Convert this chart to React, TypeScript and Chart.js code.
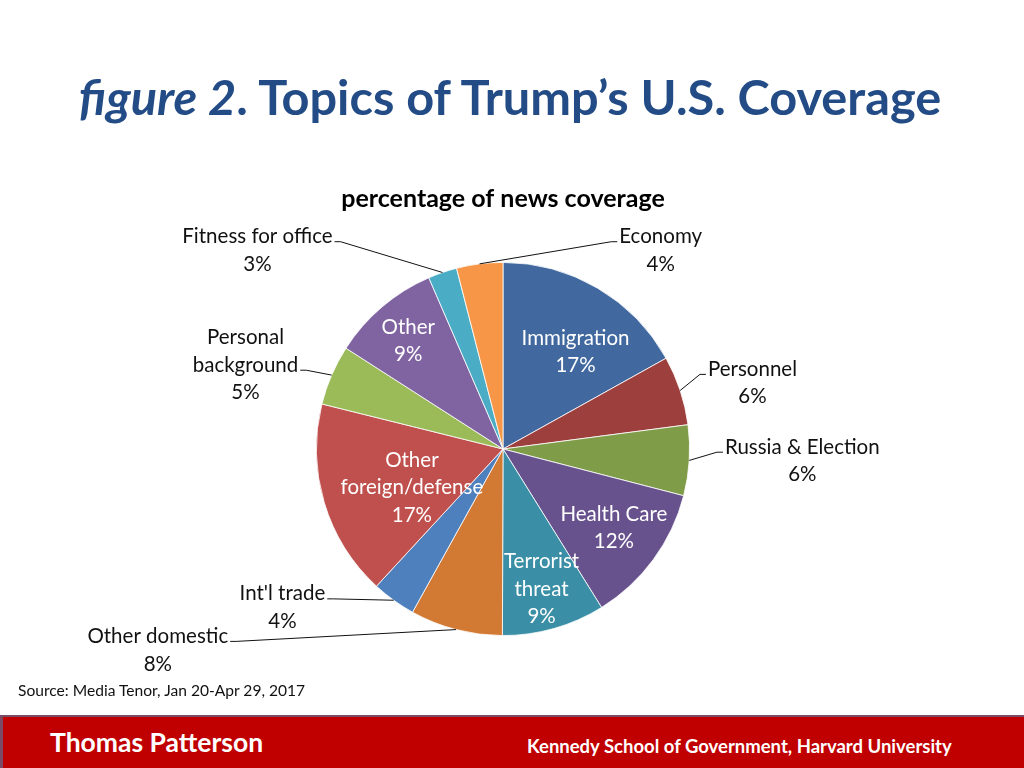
import React, { useEffect, useRef } from "react";
import { Chart, registerables } from "chart.js";

Chart.register(...registerables);

// ---- data (clockwise from 12 o'clock) ----
const categories = [
  "Immigration",
  "Personnel",
  "Russia & Election",
  "Health Care",
  "Terrorist\nthreat",
  "Other domestic",
  "Int'l trade",
  "Other\nforeign/defense",
  "Personal\nbackground",
  "Other",
  "Fitness for office",
  "Economy",
];
const shares = [16.9, 6.0, 6.1, 12.1, 8.9, 8.0, 3.8, 17.0, 5.2, 9.4, 2.5, 4.0];
const sliceColors = [
  "#41699F",
  "#9D403D",
  "#7F9C49",
  "#68528E",
  "#3A8FA6",
  "#D27A34",
  "#4E80BD",
  "#C0504D",
  "#9BBB59",
  "#8064A2",
  "#4BACC6",
  "#F79646",
];

const chartTitle = "percentage of news coverage";
const slideTitleItalic = "figure 2";
const slideTitleRest = ". Topics of Trump’s U.S. Coverage";
const sourceNote = "Source: Media Tenor, Jan 20-Apr 29, 2017";
const footerLeft = "Thomas Patterson";
const footerRight = "Kennedy School of Government, Harvard University";

// ---- label layout (style only) ----
type InsideLayout = { kind: "in"; r: number; dAng: number };
type OutsideLayout = { kind: "out"; lx: number; ly: number; side: "left" | "right"; anchorLine: number };
const labelLayout: (InsideLayout | OutsideLayout)[] = [
  { kind: "in", r: 0.65, dAng: 6.3 },
  { kind: "out", lx: 1.337, ly: -0.353, side: "right", anchorLine: 0 },
  { kind: "out", lx: 1.604, ly: 0.064, side: "right", anchorLine: 0 },
  { kind: "in", r: 0.73, dAng: -0.8 },
  { kind: "in", r: 0.78, dAng: 0.5 },
  { kind: "out", lx: -1.85, ly: 1.078, side: "left", anchorLine: 0 },
  { kind: "out", lx: -1.182, ly: 0.85, side: "left", anchorLine: 0 },
  { kind: "in", r: 0.53, dAng: -6.2 },
  { kind: "out", lx: -1.38, ly: -0.449, side: "left", anchorLine: 1 },
  { kind: "in", r: 0.77, dAng: -0.9 },
  { kind: "out", lx: -1.316, ly: -1.064, side: "left", anchorLine: 0 },
  { kind: "out", lx: 0.845, ly: -1.064, side: "right", anchorLine: 0 },
];

const LABEL_FONT = "20.5px Lato, 'Open Sans', sans-serif";
const LINE_H = 27.5;

const pieLabelPlugin = {
  id: "pieLabels",
  afterDraw(chart: any) {
    const ctx: CanvasRenderingContext2D = chart.ctx;
    const meta = chart.getDatasetMeta(0);
    ctx.save();
    ctx.font = LABEL_FONT;
    ctx.textAlign = "center";
    ctx.textBaseline = "middle";
    meta.data.forEach((arc: any, i: number) => {
      const p = arc.getProps(["x", "y", "startAngle", "endAngle", "outerRadius"], true);
      const R = p.outerRadius;
      const mid = (p.startAngle + p.endAngle) / 2;
      const val = chart.data.datasets[0].data[i] as number;
      const lines = [...String(chart.data.labels[i]).split("\n"), Math.round(val) + "%"];
      const lay = labelLayout[i];
      if (lay.kind === "in") {
        const a = mid + (lay.dAng * Math.PI) / 180;
        const cx = p.x + Math.cos(a) * R * lay.r;
        const cy = p.y + Math.sin(a) * R * lay.r;
        ctx.fillStyle = "#FFFFFF";
        const top = cy - ((lines.length - 1) * LINE_H) / 2;
        lines.forEach((t, k) => ctx.fillText(t, cx, top + k * LINE_H));
      } else {
        const cx = p.x + lay.lx * R;
        const cy = p.y + lay.ly * R;
        const top = cy - ((lines.length - 1) * LINE_H) / 2;
        ctx.fillStyle = "#111111";
        lines.forEach((t, k) => ctx.fillText(t, cx, top + k * LINE_H));
        const aLine = lines[lay.anchorLine];
        const w = ctx.measureText(aLine).width;
        const ay = top + lay.anchorLine * LINE_H + 5;
        const ax = lay.side === "left" ? cx + w / 2 + 2 : cx - w / 2 - 2;
        const stub = lay.side === "left" ? ax + 6 : ax - 6;
        const ex = p.x + Math.cos(mid) * R;
        const ey = p.y + Math.sin(mid) * R;
        ctx.strokeStyle = "#111111";
        ctx.lineWidth = 1;
        ctx.beginPath();
        ctx.moveTo(ax, ay);
        ctx.lineTo(stub, ay);
        ctx.lineTo(ex, ey);
        ctx.stroke();
      }
    });
    ctx.restore();
  },
};

function PieChart() {
  const ref = useRef<HTMLCanvasElement | null>(null);
  useEffect(() => {
    if (!ref.current) return;
    const chart = new Chart(ref.current, {
      type: "pie",
      data: {
        labels: categories,
        datasets: [
          {
            data: shares,
            backgroundColor: sliceColors,
            borderColor: "#FFFFFF",
            borderWidth: 0.8,
          },
        ],
      },
      options: {
        responsive: false,
        maintainAspectRatio: false,
        animation: false,
        devicePixelRatio: 1,
        layout: { padding: { top: 184, bottom: 132, left: 316, right: 334 } },
        plugins: {
          legend: { display: false },
          tooltip: { enabled: false },
          title: {
            display: true,
            text: chartTitle,
            color: "#000000",
            font: { family: "Lato, 'Open Sans', sans-serif", size: 25, weight: "bold" },
            padding: { top: 0, bottom: 48 },
          },
        },
      },
      plugins: [pieLabelPlugin],
    });
    return () => chart.destroy();
  }, []);
  return (
    <canvas
      ref={ref}
      width={1024}
      height={768}
      style={{ position: "absolute", left: 0, top: 0, width: 1024, height: 768 }}
    />
  );
}

export default function App() {
  return (
    <div
      style={{
        position: "absolute",
        left: 0,
        top: 0,
        width: 1024,
        height: 768,
        overflow: "hidden",
        background: "#FFFFFF",
        fontFamily: "Lato, 'Open Sans', sans-serif",
      }}
    >
      <div
        style={{
          position: "absolute",
          left: 0,
          top: 66,
          width: 1020,
          textAlign: "center",
          color: "#234C86",
          fontWeight: 700,
          fontSize: 48.7,
          lineHeight: "60px",
        }}
      >
        <i>{slideTitleItalic}</i>
        {slideTitleRest}
      </div>
      <PieChart />
      <div
        style={{
          position: "absolute",
          left: 18,
          top: 680,
          fontSize: 15.6,
          lineHeight: "20px",
          color: "#111111",
        }}
      >
        {sourceNote}
      </div>
      <div
        style={{
          position: "absolute",
          left: 0,
          top: 715,
          width: 1024,
          height: 53,
          boxSizing: "border-box",
          background: "#C00000",
          borderTop: "2px solid #7A4A66",
          borderLeft: "3px solid #7A4A66",
          color: "#FFFFFF",
          fontWeight: 700,
        }}
      >
        <div style={{ position: "absolute", left: 47, top: 9, fontSize: 26.5, lineHeight: "32px" }}>
          {footerLeft}
        </div>
        <div style={{ position: "absolute", left: 524, top: 17, fontSize: 18.5, lineHeight: "24px" }}>
          {footerRight}
        </div>
      </div>
    </div>
  );
}
